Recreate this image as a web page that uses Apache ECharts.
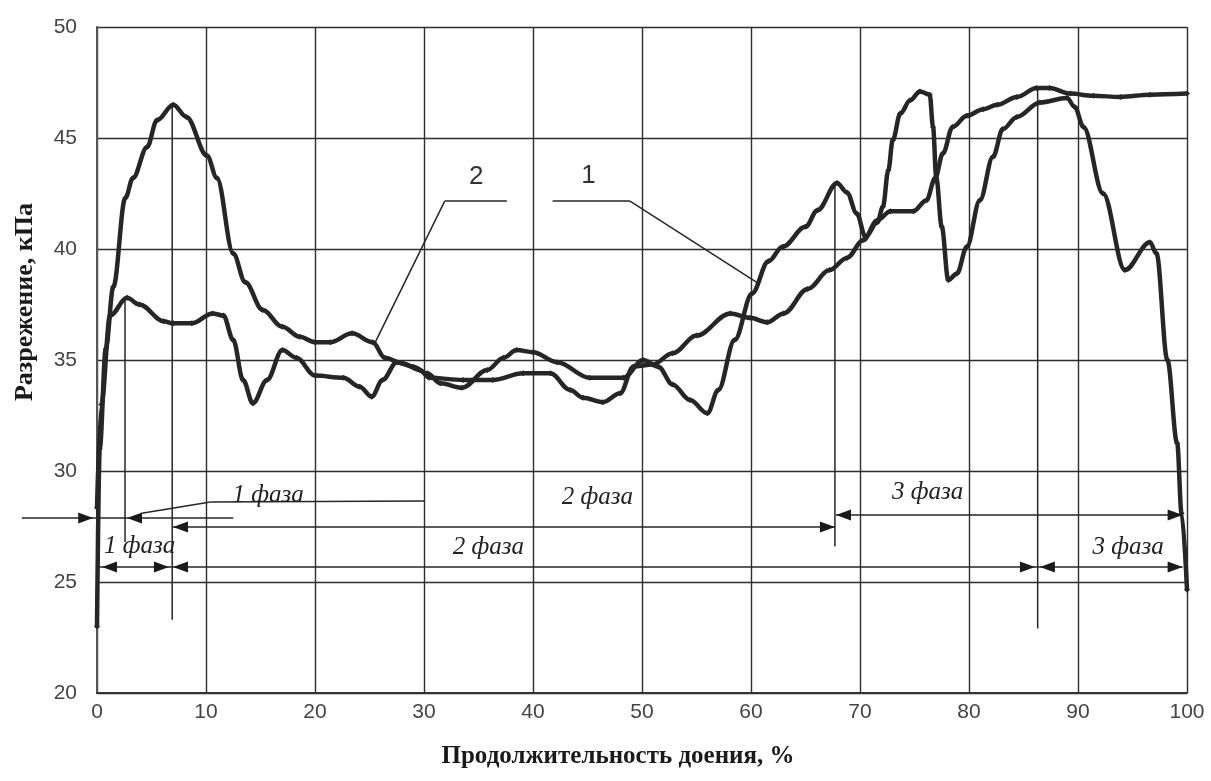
<!DOCTYPE html>
<html>
<head>
<meta charset="utf-8">
<script src="https://cdn.jsdelivr.net/npm/echarts@6/dist/echarts.min.js"></script>
<style>
  html, body { margin: 0; padding: 0; background: #ffffff; }
  #chart { width: 1211px; height: 781px; }
</style>
</head>
<body>
<div id="chart"></div>
<script>
// Кривая 1: разрежение (кПа) по продолжительности доения (%)
const curve1X = [0, 0.4, 1.2, 2.75, 3.9, 6.1, 7.0, 8.7, 10.6, 11.6, 12.5, 13.4, 14.3, 15.6, 17.0, 18.3, 20.0,
  22.6, 24.1, 25.2, 26.2, 27.5, 29.0, 30.3, 31.5, 33.5, 35.8, 37.3, 38.5, 40.0, 42.2, 45.2, 48.3, 50.1, 51.5,
  52.8, 54.4, 56.0, 57.0, 58.5, 60.1, 61.6, 62.9, 65.0, 66.1, 67.9, 68.8, 69.7, 70.5, 71.6, 72.1, 72.6, 73.0,
  73.7, 74.6, 75.5, 76.4, 76.7, 77.0, 77.5, 78.1, 78.9, 79.8, 81.0, 82.2, 83.1, 84.4, 86.5, 89.0, 89.7, 90.5,
  92.3, 94.3, 96.6, 97.2, 98.2, 99.1, 99.5, 100];
const curve1Y = [28.35, 33.0, 37.0, 37.8, 37.5, 36.75, 36.65, 36.65, 37.1, 37.0, 35.9, 34.1, 33.05, 34.1, 35.45, 35.1, 34.3,
  34.2, 33.8, 33.35, 34.1, 34.9, 34.7, 34.4, 33.95, 33.75, 34.55, 35.1, 35.45, 35.35, 34.9, 34.2, 34.2, 35.0, 34.7,
  33.9, 33.2, 32.6, 33.65, 35.9, 38.0, 39.45, 40.1, 41.0, 41.75, 42.97, 42.55, 41.6, 40.55, 41.2, 41.9, 43.55, 44.9,
  46.1, 46.7, 47.1, 46.95, 45.5, 43.2, 41.0, 38.6, 38.9, 40.1, 42.2, 44.15, 45.4, 45.95, 46.6, 46.8, 46.4, 45.5,
  42.5, 39.05, 40.3, 39.8, 35.0, 31.25, 28.1, 24.65];

// Кривая 2
const curve2X = [0, 0.25, 0.8, 1.5, 2.6, 3.3, 4.6, 5.5, 7.0, 8.2, 10.1, 11.0, 12.5, 13.6, 15.2, 17.0, 18.6, 20.0,
  21.4, 23.4, 25.3, 26.4, 28.0, 29.6, 30.5, 33.6, 36.3, 39.1, 41.6, 43.4, 44.6, 46.4, 48.0, 49.2, 51.0, 52.8,
  55.0, 58.1, 59.9, 61.5, 63.0, 65.2, 67.2, 68.8, 70.3, 71.6, 72.8, 74.9, 76.1, 76.9, 77.6, 78.5, 79.8, 81.3,
  82.6, 84.4, 86.2, 87.4, 89.3, 91.4, 93.9, 96.6, 100];
const curve2Y = [23.0, 31.0, 35.5, 38.3, 42.3, 43.2, 44.6, 45.8, 46.5, 45.95, 44.2, 43.2, 39.8, 38.5, 37.25, 36.5, 36.05, 35.8,
  35.8, 36.2, 35.8, 35.1, 34.85, 34.55, 34.2, 34.1, 34.1, 34.4, 34.4, 33.65, 33.3, 33.1, 33.5, 34.7, 34.8, 35.3,
  36.1, 37.1, 36.9, 36.7, 37.1, 38.2, 39.05, 39.6, 40.4, 41.3, 41.7, 41.7, 42.2, 43.2, 44.3, 45.5, 46.0, 46.3,
  46.5, 46.85, 47.25, 47.25, 47.0, 46.9, 46.85, 46.95, 47.0];

// Выносные и размерные линии фаз: [x1, y1, x2, y2] в единицах осей
const phaseSegments = [
  [-6.9, 27.88, 12.5, 27.88],
  [4.1, 28.1, 10.4, 28.6], [10.4, 28.6, 30.1, 28.65],
  [2.57, 37.84, 2.57, 26.8],
  [6.9, 46.5, 6.9, 23.3],
  [6.97, 27.48, 67.7, 27.48],
  [67.7, 42.97, 67.7, 26.6],
  [67.8, 28.02, 99.6, 28.02],
  [0, 25.68, 99.6, 25.68],
  [86.3, 47.25, 86.3, 22.9],
  // выноски номеров кривых
  [25.5, 35.77, 31.9, 42.16], [31.9, 42.16, 37.6, 42.16],
  [41.8, 42.16, 48.9, 42.16], [48.9, 42.16, 60.6, 38.47]
];
// Стрелки: [x острия, y, направление (+1 вправо, -1 влево)]
const phaseArrows = [
  [-0.35, 27.88, 1], [2.75, 27.88, -1],
  [6.97, 27.48, -1], [67.7, 27.48, 1],
  [67.8, 28.02, -1], [99.6, 28.02, 1],
  [0.46, 25.68, -1], [6.6, 25.68, 1],
  [6.97, 25.68, -1], [86.05, 25.68, 1],
  [86.5, 25.68, -1], [99.6, 25.68, 1]
];
// Подписи фаз
const phaseLabelX = [15.7, 45.9, 76.2, 3.9, 35.9, 94.6];
const phaseLabelY = [28.9, 28.8, 29.05, 26.6, 26.58, 26.58];
const phaseLabelText = ['1 фаза', '2 фаза', '3 фаза', '1 фаза', '2 фаза', '3 фаза'];
// Номера кривых
const curveNumX = [34.8, 45.1];
const curveNumY = [43.24, 43.29];
const curveNumText = ['2', '1'];

const ink = '#262626';

const chart = echarts.init(document.getElementById('chart'), null, { renderer: 'canvas' });

function zip(xs, ys) { return xs.map((x, i) => [x, ys[i]]); }

const curveStyle = {
  type: 'line',
  smooth: 0.35,
  smoothMonotone: 'x',
  symbol: 'diamond',
  symbolSize: 6,
  lineStyle: { color: ink, width: 4.5 },
  itemStyle: { color: ink },
  z: 5,
  animation: false
};

chart.setOption({
  animation: false,
  backgroundColor: '#ffffff',
  grid: { left: 97, top: 27, width: 1090, height: 666, containLabel: false },
  xAxis: {
    type: 'value', min: 0, max: 100, interval: 10,
    axisLine: { show: true, lineStyle: { color: '#333', width: 2 } },
    axisTick: { show: false },
    axisLabel: { color: '#444', fontFamily: '"Liberation Sans Narrow", "Liberation Sans", Arial', fontSize: 21, margin: 9 },
    splitLine: { show: true, lineStyle: { color: '#2e2e2e', width: 1.4 } }
  },
  yAxis: {
    type: 'value', min: 20, max: 50, interval: 5,
    axisLine: { show: true, lineStyle: { color: '#555', width: 2 } },
    axisTick: { show: false },
    axisLabel: { color: '#444', fontFamily: '"Liberation Sans Narrow", "Liberation Sans", Arial', fontSize: 21, margin: 20 },
    splitLine: { show: true, lineStyle: { color: '#2e2e2e', width: 1.4 } }
  },
  graphic: [
    {
      type: 'text', x: 618, y: 757,
      style: { text: 'Продолжительность доения, %', font: 'bold 25px "Liberation Serif"', fill: '#1a1a1a', align: 'center', verticalAlign: 'middle' }
    },
    {
      type: 'text', x: 25, y: 302, rotation: Math.PI / 2,
      style: { text: 'Разрежение, кПа', font: 'bold 26px "Liberation Serif"', fill: '#1a1a1a', align: 'center', verticalAlign: 'middle' }
    }
  ],
  series: [
    Object.assign({ name: '1', data: zip(curve1X, curve1Y) }, curveStyle),
    Object.assign({ name: '2', data: zip(curve2X, curve2Y) }, curveStyle),
    {
      type: 'custom', name: 'segments', silent: true, z: 4,
      encode: { x: [0, 2], y: [1, 3] },
      data: phaseSegments,
      renderItem: function (params, api) {
        const a = api.coord([api.value(0), api.value(1)]);
        const b = api.coord([api.value(2), api.value(3)]);
        return { type: 'line', shape: { x1: a[0], y1: a[1], x2: b[0], y2: b[1] }, style: { stroke: ink, lineWidth: 1.5 } };
      }
    },
    {
      type: 'custom', name: 'arrows', silent: true, z: 6,
      encode: { x: 0, y: 1 },
      data: phaseArrows,
      renderItem: function (params, api) {
        const p = api.coord([api.value(0), api.value(1)]);
        const d = api.value(2);
        return {
          type: 'polygon',
          shape: { points: [[p[0], p[1]], [p[0] - d * 15, p[1] - 5.5], [p[0] - d * 15, p[1] + 5.5]] },
          style: { fill: '#1a1a1a' }
        };
      }
    },
    {
      type: 'custom', name: 'phases', silent: true, z: 7,
      encode: { x: 0, y: 1 },
      data: zip(phaseLabelX, phaseLabelY),
      renderItem: function (params, api) {
        const p = api.coord([api.value(0), api.value(1)]);
        return {
          type: 'text', x: p[0], y: p[1],
          style: { text: phaseLabelText[params.dataIndex], font: 'italic 25px "Liberation Serif"', fill: '#222', align: 'center', verticalAlign: 'middle' }
        };
      }
    },
    {
      type: 'custom', name: 'numbers', silent: true, z: 7,
      encode: { x: 0, y: 1 },
      data: zip(curveNumX, curveNumY),
      renderItem: function (params, api) {
        const p = api.coord([api.value(0), api.value(1)]);
        return {
          type: 'text', x: p[0], y: p[1],
          style: { text: curveNumText[params.dataIndex], font: '26px "Liberation Sans Narrow", "Liberation Sans"', fill: '#333', align: 'center', verticalAlign: 'middle' }
        };
      }
    }
  ]
});
</script>
</body>
</html>
